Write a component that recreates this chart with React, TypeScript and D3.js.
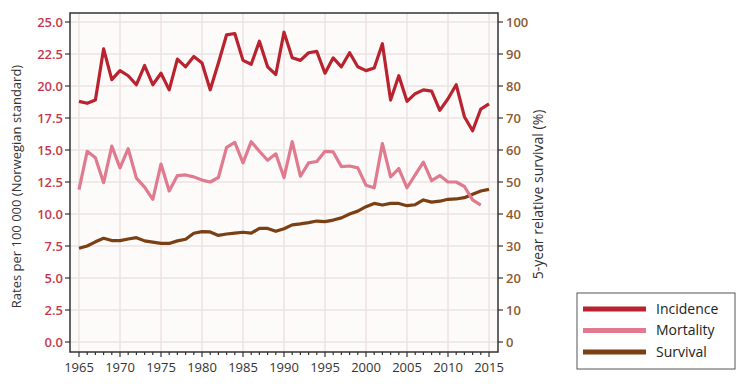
import React from "react";
import * as d3 from "d3";

const years = d3.range(1965, 2016);

const incidence = [
  18.8, 18.65, 18.9, 22.9, 20.5, 21.2, 20.8, 20.1, 21.6, 20.1,
  21.0, 19.7, 22.1, 21.5, 22.3, 21.8, 19.7, 21.8, 24.0, 24.1,
  22.0, 21.7, 23.5, 21.5, 20.9, 24.2, 22.2, 22.0, 22.6, 22.7,
  21.0, 22.2, 21.5, 22.6, 21.5, 21.2, 21.4, 23.3, 18.9, 20.8,
  18.8, 19.4, 19.7, 19.6, 18.1, 19.0, 20.1, 17.6, 16.5, 18.2,
  18.6,
];

// mortality has no value for 2015
const mortality = [
  11.9, 14.9, 14.4, 12.45, 15.3, 13.6, 15.1, 12.8, 12.1, 11.15,
  13.9, 11.8, 13.0, 13.05, 12.9, 12.65, 12.5, 12.85, 15.2, 15.6,
  14.0, 15.65, 14.9, 14.2, 14.7, 12.85, 15.65, 12.95, 14.0, 14.1,
  14.9, 14.85, 13.7, 13.75, 13.6, 12.25, 12.05, 15.5, 12.9, 13.55,
  12.05, 13.05, 14.05, 12.6, 13.0, 12.5, 12.5, 12.15, 11.1, 10.7,
];

const survival = [
  29.3, 30.0, 31.3, 32.4, 31.7, 31.7, 32.2, 32.6, 31.6, 31.2,
  30.8, 30.8, 31.6, 32.1, 34.0, 34.5, 34.4, 33.3, 33.75, 34.0,
  34.3, 34.0, 35.5, 35.5, 34.6, 35.4, 36.6, 36.9, 37.3, 37.8,
  37.6, 38.1, 38.8, 40.0, 40.9, 42.3, 43.3, 42.8, 43.3, 43.3,
  42.6, 42.9, 44.4, 43.7, 44.0, 44.6, 44.7, 45.1, 46.2, 47.2,
  47.7,
];

const leftTicks = [0, 2.5, 5, 7.5, 10, 12.5, 15, 17.5, 20, 22.5, 25];
const rightTicks = [0, 10, 20, 30, 40, 50, 60, 70, 80, 90, 100];
const yearTicks = d3.range(1965, 2016, 5);

const legendItems = [
  { name: "Incidence", color: "#b8232f" },
  { name: "Mortality", color: "#e07a8f" },
  { name: "Survival", color: "#7b3f14" },
];

const W = 746;
const H = 386;
const panel = { left: 70, right: 498, top: 13, bottom: 352 };
const font = "'Open Sans', 'Noto Sans', sans-serif";

export default function App() {
  const x = d3.scaleLinear().domain([1965, 2015]).range([79, 489]);
  const yL = d3.scaleLinear().domain([0, 25]).range([342, 22]);
  const yR = d3.scaleLinear().domain([0, 100]).range([342, 22]);

  const lineL = d3
    .line<number>()
    .x((_, i) => x(years[i]))
    .y((d) => yL(d));
  const lineR = d3
    .line<number>()
    .x((_, i) => x(years[i]))
    .y((d) => yR(d));

  return (
    <svg
      width={W}
      height={H}
      style={{ position: "absolute", left: 0, top: 0, background: "#fff" }}
      fontFamily={font}
    >
      <rect
        x={panel.left}
        y={panel.top}
        width={panel.right - panel.left}
        height={panel.bottom - panel.top}
        fill="#fdfbfa"
      />
      {/* grid */}
      {leftTicks.map((t) => (
        <line key={"gy" + t} x1={panel.left} x2={panel.right} y1={yL(t)} y2={yL(t)} stroke="#ebe3e0" strokeWidth={1.5} />
      ))}
      {yearTicks.map((t) => (
        <line key={"gx" + t} x1={x(t)} x2={x(t)} y1={panel.top} y2={panel.bottom} stroke="#ebe3e0" strokeWidth={1.5} />
      ))}

      {/* series */}
      <path d={lineR(survival) || ""} fill="none" stroke="#7b3f14" strokeWidth={3.2} strokeLinejoin="round" />
      <path d={lineL(mortality) || ""} fill="none" stroke="#e07a8f" strokeWidth={3.2} strokeLinejoin="round" />
      <path d={lineL(incidence) || ""} fill="none" stroke="#b8232f" strokeWidth={3.2} strokeLinejoin="round" />

      {/* frame */}
      <path
        d={`M${panel.left},${panel.bottom}V${panel.top}H${panel.right}V${panel.bottom}Z`}
        fill="none"
        stroke="#333"
        strokeWidth={1.5}
      />

      {/* left axis */}
      {leftTicks.map((t) => (
        <g key={"l" + t}>
          <line x1={panel.left - 5} x2={panel.left} y1={yL(t)} y2={yL(t)} stroke="#333" strokeWidth={1.2} />
          <text x={panel.left - 7} y={yL(t)} dy="0.35em" textAnchor="end" fontSize={13} fontWeight={600} fill="#c8394f">
            {d3.format(".1f")(t)}
          </text>
        </g>
      ))}

      {/* right axis */}
      {rightTicks.map((t) => (
        <g key={"r" + t}>
          <line x1={panel.right} x2={panel.right + 5} y1={yR(t)} y2={yR(t)} stroke="#333" strokeWidth={1.2} />
          <text x={panel.right + 8} y={yR(t)} dy="0.35em" textAnchor="start" fontSize={13} fontWeight={600} fill="#8c5a33">
            {t}
          </text>
        </g>
      ))}

      {/* bottom axis */}
      {years.map((t) => (
        <line
          key={"b" + t}
          x1={x(t)}
          x2={x(t)}
          y1={panel.bottom}
          y2={panel.bottom + (t % 5 === 0 ? 5 : 3)}
          stroke="#333"
          strokeWidth={1.2}
        />
      ))}
      {yearTicks.map((t) => (
        <text key={"bl" + t} x={x(t)} y={panel.bottom + 20} textAnchor="middle" fontSize={13} fill="#333">
          {t}
        </text>
      ))}

      {/* axis titles */}
      <text
        transform={`translate(21,${(panel.top + panel.bottom) / 2 + 4}) rotate(-90)`}
        textAnchor="middle"
        fontSize={13}
        fill="#333"
      >
        Rates per 100 000 (Norwegian standard)
      </text>
      <text
        transform={`translate(543,${(panel.top + panel.bottom) / 2 + 12}) rotate(-90)`}
        textAnchor="middle"
        fontSize={14}
        fill="#333"
      >
        5-year relative survival (%)
      </text>

      {/* legend */}
      <rect x={577} y={293} width={158} height={76} fill="#fff" stroke="#555" strokeWidth={1} />
      {legendItems.map((d, i) => (
        <g key={d.name} transform={`translate(583,${309 + i * 21.5})`}>
          <line x1={0} x2={63} y1={0} y2={0} stroke={d.color} strokeWidth={5} />
          <text x={73} y={0} dy="0.35em" fontSize={14} fill="#222">
            {d.name}
          </text>
        </g>
      ))}
    </svg>
  );
}
